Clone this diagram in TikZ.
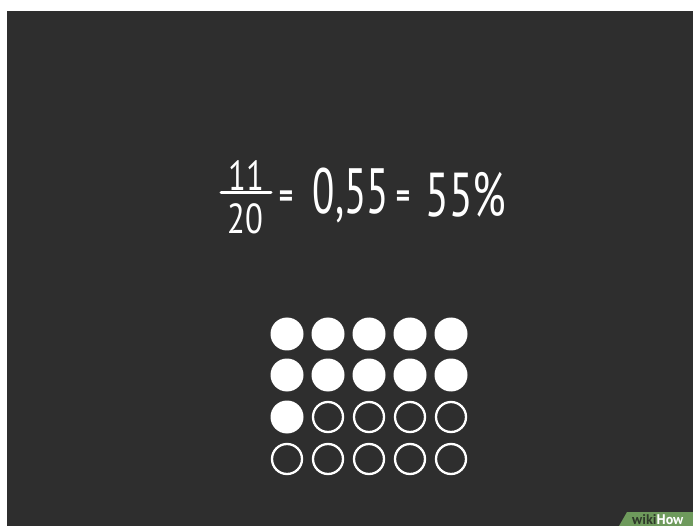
\documentclass[tikz,border=0pt]{standalone}
\usepackage{fontspec}
\setmainfont{PT Sans}
\definecolor{board}{HTML}{2E2E2E}
\definecolor{wgreen}{HTML}{6E9A5C}
\definecolor{wdark}{HTML}{2F3A2A}
\begin{document}
\begin{tikzpicture}[x=1pt,y=-1pt,
  chalk/.style={text=white,inner sep=0pt,anchor=center},
  eqsign/.style={chalk,font=\bfseries\fontsize{34}{34}\selectfont,xscale=0.8},
  full/.style={circle,fill=white,minimum size=33pt,inner sep=0pt},
  empty/.style={circle,draw=white,line width=2.3pt,minimum size=30pt,inner sep=0pt}]
\useasboundingbox (0,0) rectangle (693,526);
\fill[white] (0,0) rectangle (693,526);
\fill[board] (7,11) rectangle (693,526);
% equation
\node[chalk,font=\fontsize{42}{42}\selectfont,xscale=0.78] (n11) at (246,176) {11};
\node[chalk,font=\fontsize{42}{42}\selectfont,xscale=0.78] (n20) at (245,219) {20};
\coordinate (barL) at (221,193);
\coordinate (barR) at (271,193);
\draw[white,line width=3pt,line cap=round] (barL) -- (barR);
\node[eqsign] (eq1) at (286,199) {=};
\node[chalk,font=\fontsize{64}{64}\selectfont,xscale=0.64] (dec) at (351,195) {0,55};
\node[eqsign] (eq2) at (403,199) {=};
\node[chalk,font=\fontsize{62}{62}\selectfont,xscale=0.7] (pct) at (466,195) {55\%};
% dots
\foreach \r [count=\i from 0] in {334,375,417,459}{
  \foreach \c [count=\j from 0] in {287,328,369,410,451}{
    \pgfmathtruncatemacro{\k}{\i*5+\j}
    \ifnum\k<11
      \node[full] (d\i\j) at (\c,\r) {};
    \else
      \node[empty] (d\i\j) at (\c,\r) {};
    \fi
  }
}
% watermark
\fill[wgreen] (627,512) -- (693,512) -- (693,526) -- (619,526) -- cycle;
\begin{scope}
\clip (619,512) rectangle (693,526);
\node[anchor=north west,inner sep=0pt,font=\bfseries\fontsize{14}{14}\selectfont] (wm) at (632,514) {\textcolor{wdark}{wiki}\textcolor{white}{How}};
\end{scope}
\end{tikzpicture}
\end{document}
